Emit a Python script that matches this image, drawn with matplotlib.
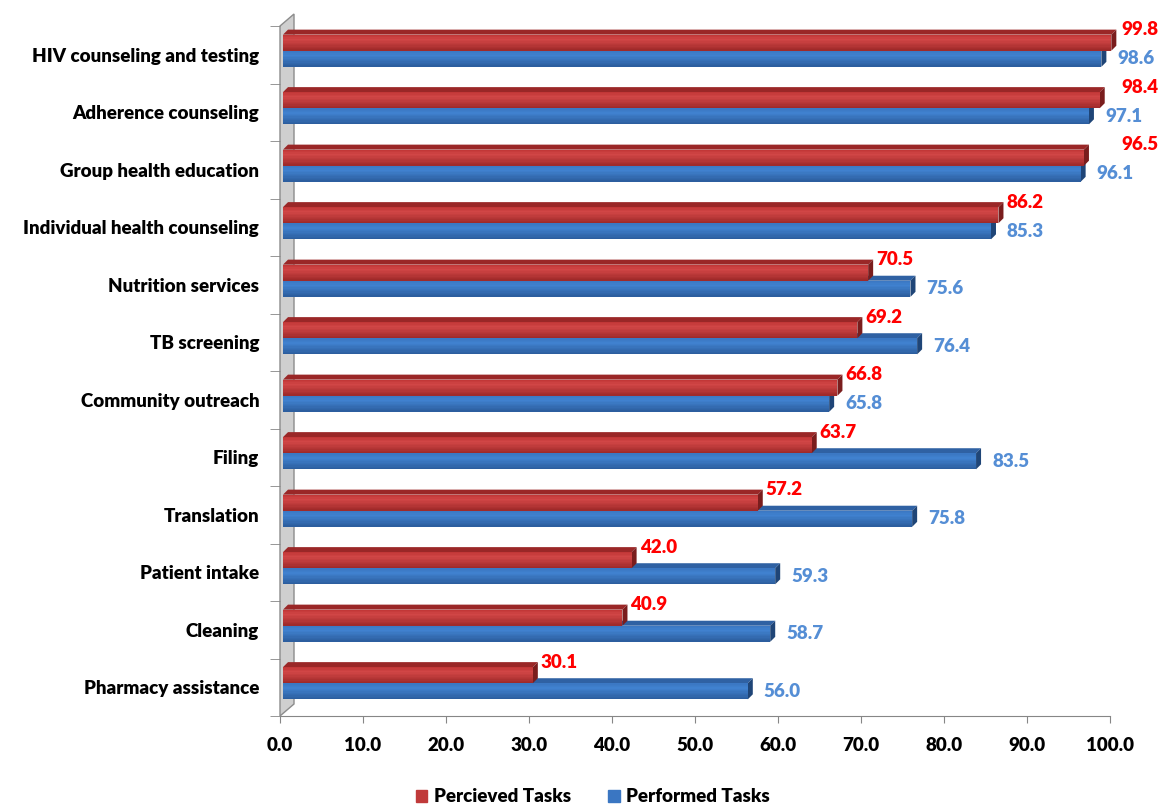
import matplotlib.pyplot as plt
import numpy as np
from matplotlib.patches import Polygon, Patch
from matplotlib.colors import to_rgb

plt.rcParams['font.family'] = ['Lato', 'DejaVu Sans']
plt.rcParams['font.weight'] = 'heavy'

tasks = ["HIV counseling and testing", "Adherence counseling", "Group health education",
         "Individual health counseling", "Nutrition services", "TB screening",
         "Community outreach", "Filing", "Translation", "Patient intake", "Cleaning",
         "Pharmacy assistance"]
perceived = [99.8, 98.4, 96.5, 86.2, 70.5, 69.2, 66.8, 63.7, 57.2, 42.0, 40.9, 30.1]
performed = [98.6, 97.1, 96.1, 85.3, 75.6, 76.4, 65.8, 83.5, 75.8, 59.3, 58.7, 56.0]
x_ticks = np.arange(0, 101, 10)

W, H = 1160, 807
fig = plt.figure(figsize=(W / 100, H / 100), dpi=100)
ax_l, ax_r, ax_t, ax_b = 280, 1110, 26, 716
ax = fig.add_axes([ax_l / W, 1 - ax_b / H, (ax_r - ax_l) / W, (ax_b - ax_t) / H])
n = len(tasks)
ax.set_xlim(0, 100)
ax.set_ylim(n - 0.5, -0.5)

# pixel -> data unit helpers
ppx = (ax_r - ax_l) / 100
ppy = (ax_b - ax_t) / n
dx, dy = 5 / ppx, 5 / ppy      # bar depth
shift = 3 / ppx                 # bars sit slightly in front of the side wall
FS = 13.5

RED = dict(front=["#BF3434", "#D24646", "#9C2828"], top="#9A2727", side="#7A1D1D")
BLUE = dict(front=["#3A76C2", "#4081CF", "#2B5C9C"], top="#2F61A3", side="#1F4577")


def shade(stops, t):
    c = [np.array(to_rgb(s)) for s in stops]
    if t < 0.3:
        return c[0] + (c[1] - c[0]) * t / 0.3
    return c[1] + (c[2] - c[1]) * (t - 0.3) / 0.7


def bar3d(y_top, h, v, style):
    x0, x1 = shift, shift + v
    ax.add_patch(Polygon([(x0, y_top), (x1, y_top), (x1 + dx, y_top - dy), (x0 + dx, y_top - dy)],
                         closed=True, fc=style["top"], ec="none", clip_on=False, zorder=3))
    ax.add_patch(Polygon([(x1, y_top), (x1 + dx, y_top - dy), (x1 + dx, y_top + h - dy), (x1, y_top + h)],
                         closed=True, fc=style["side"], ec="none", clip_on=False, zorder=3))
    k = 12
    edges = np.linspace(y_top, y_top + h, k + 1)
    for j in range(k):
        ax.barh(edges[j], v, height=edges[j + 1] - edges[j], left=x0, align="edge",
                color=shade(style["front"], (j + 0.5) / k), lw=0, clip_on=False, zorder=3)


# side wall on the left
wx, wy = 14 / ppx, 12 / ppy
ax.add_patch(Polygon([(0, -0.5), (0, n - 0.5), (wx, n - 0.5 - wy), (wx, -0.5 - wy)],
                     closed=True, fc="#CFCFCF", ec="#8C8C8C", lw=1, clip_on=False, zorder=1))

for i in range(n):
    bar3d(i - 0.07, 0.28, performed[i], BLUE)
    bar3d(i - 0.35, 0.28, perceived[i], RED)

    v = perceived[i]
    if v >= 90:
        ax.text((1158 - ax_l) / ppx, i - 0.35 - 5 / ppy, f"{v:.1f}", color="#FF0000",
                fontsize=FS, ha="right", va="center", clip_on=False)
    else:
        ax.text(v + 11 / ppx, i - 0.35 - 5 / ppy, f"{v:.1f}", color="#FF0000",
                fontsize=FS, ha="left", va="center", clip_on=False)
    ax.text(performed[i] + 19 / ppx, i + 0.07, f"{performed[i]:.1f}", color="#558ED5",
            fontsize=FS, ha="left", va="center", clip_on=False)

for s in ["top", "right", "left"]:
    ax.spines[s].set_visible(False)
ax.spines["bottom"].set_color("#868686")

ax.set_xticks(x_ticks)
ax.set_xticklabels([f"{t:.1f}" for t in x_ticks], fontsize=FS)
ax.tick_params(axis="x", length=5, color="#868686", pad=10)

ax.set_yticks(range(n))
ax.set_yticklabels(tasks, fontsize=FS)
ax.set_yticks(np.arange(-0.5, n, 1), minor=True)
ax.tick_params(axis="y", which="major", length=0, pad=15)
ax.tick_params(axis="y", which="minor", length=7, color="#868686")

handles = [Patch(color="#C03A3A", label="Percieved Tasks"),
           Patch(color="#3A76C2", label="Performed Tasks")]
fig.legend(handles=handles, loc="center", bbox_to_anchor=(593 / W, 1 - 797 / H), ncol=2,
           frameon=False, fontsize=FS, handlelength=0.6, handleheight=0.6,
           handletextpad=0.35, columnspacing=2.0)

fig.savefig("out.png", dpi=100)
